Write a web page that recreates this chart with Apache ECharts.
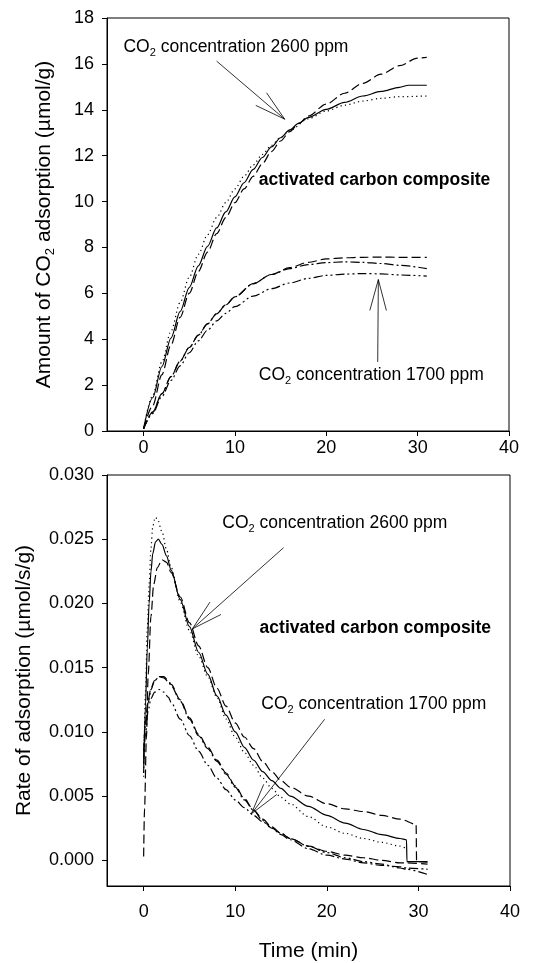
<!DOCTYPE html>
<html>
<head>
<meta charset="utf-8">
<script src="https://cdn.jsdelivr.net/npm/echarts@6/dist/echarts.min.js"></script>
<style>
  html, body { margin: 0; padding: 0; background: #fff; }
  #chart { width: 534px; height: 963px; }
</style>
</head>
<body>
<div id="chart"></div>
<script>
// ---- data: [time (min), value] ----
const xTicks = [0, 10, 20, 30, 40];
const amountTicks = [0, 2, 4, 6, 8, 10, 12, 14, 16, 18];
const rateTicks = [0, 0.005, 0.01, 0.015, 0.02, 0.025, 0.03];

// upper panel: amount of CO2 adsorbed (umol/g)
const amount2600Solid = [[0,0.1],[1,1.45],[2,2.8],[3,4.05],[4,5.2],[5,6.25],[6,7.2],[7,8.05],[8,8.85],[9,9.55],[10,10.2],[11,10.82],[12,11.4],[13,11.92],[14,12.38],[15,12.78],[16,13.12],[17,13.42],[18,13.66],[20,14.02],[22,14.32],[24,14.6],[26,14.8],[28,14.98],[29,15.07],[31,15.07]];
const amount2600Dash = [[0,0.1],[1,1.1],[2,2.45],[3,3.75],[4,4.95],[5,6.0],[6,6.95],[7,7.8],[8,8.6],[9,9.3],[10,9.95],[11,10.55],[12,11.1],[13,11.65],[14,12.18],[15,12.64],[16,13.05],[17,13.4],[18,13.72],[20,14.25],[22,14.72],[24,15.15],[26,15.55],[28,15.92],[30,16.25],[31,16.28]];
const amount2600Dot = [[0,0.1],[1,1.55],[2,3.0],[3,4.35],[4,5.6],[5,6.7],[6,7.7],[7,8.55],[8,9.3],[9,9.95],[10,10.55],[11,11.1],[12,11.6],[13,12.05],[14,12.45],[15,12.8],[16,13.1],[18,13.6],[20,13.95],[22,14.2],[24,14.38],[26,14.5],[28,14.57],[31,14.6]];
const amount1700Dash = [[0,0.1],[1,0.82],[2,1.62],[3,2.37],[4,3.04],[5,3.64],[6,4.18],[7,4.67],[8,5.11],[9,5.5],[10,5.85],[12,6.42],[14,6.82],[16,7.12],[18,7.35],[20,7.5],[22,7.55],[24,7.57],[26,7.58],[28,7.57],[31,7.57]];
const amount1700DashDot = [[0,0.1],[1,0.82],[2,1.62],[3,2.37],[4,3.04],[5,3.64],[6,4.18],[7,4.67],[8,5.11],[9,5.5],[10,5.85],[12,6.42],[14,6.82],[16,7.08],[18,7.25],[20,7.34],[22,7.37],[24,7.35],[26,7.3],[28,7.22],[31,7.08]];
const amount1700DashDotDot = [[0,0.1],[1,0.76],[2,1.5],[3,2.2],[4,2.84],[5,3.41],[6,3.93],[7,4.39],[8,4.8],[9,5.13],[10,5.42],[12,5.88],[14,6.2],[16,6.45],[18,6.65],[20,6.78],[22,6.84],[24,6.86],[26,6.85],[28,6.8],[31,6.75]];

// lower panel: rate of adsorption (umol/s/g)
const rate2600Solid = [[0,0.0068],[0.2,0.012],[0.4,0.0165],[0.6,0.02],[0.8,0.0225],[1,0.0239],[1.3,0.0248],[1.6,0.025],[2,0.0246],[2.5,0.0237],[3,0.0226],[4,0.0203],[5,0.0182],[6,0.0162],[7,0.0145],[8,0.0128],[9,0.0113],[10,0.01],[11,0.0088],[12,0.0078],[13,0.0069],[14,0.0062],[15,0.0056],[16,0.005],[18,0.0042],[20,0.0035],[22,0.0029],[24,0.0024],[26,0.002],[28,0.0017],[28.7,0.0016],[28.75,-0.0001],[31,-0.0001]];
const rate2600Dash = [[0,0.0003],[0.1,0.004],[0.3,0.0095],[0.5,0.0145],[0.8,0.019],[1.1,0.0215],[1.5,0.0228],[2,0.0234],[2.5,0.0232],[3,0.0224],[4,0.0205],[5,0.0185],[6,0.0167],[7,0.015],[8,0.0134],[9,0.012],[10,0.0107],[11,0.0096],[12,0.0087],[13,0.0077],[14,0.0069],[15,0.0062],[16,0.0057],[18,0.005],[20,0.0044],[22,0.004],[24,0.0038],[26,0.0035],[28,0.0032],[29.75,0.0028],[29.8,-0.0001],[31,-0.00015]];
const rate2600Dot = [[0,0.0065],[0.2,0.013],[0.4,0.018],[0.6,0.0215],[0.8,0.0243],[1,0.026],[1.25,0.0267],[1.5,0.0266],[2,0.0256],[2.5,0.0242],[3,0.0228],[4,0.0201],[5,0.0179],[6,0.0159],[7,0.0143],[8,0.0127],[9,0.011],[10,0.0096],[11,0.0084],[12,0.0074],[13,0.0064],[14,0.0056],[15,0.0049],[16,0.0044],[18,0.0034],[20,0.0026],[22,0.0021],[24,0.0017],[26,0.0014],[28,0.0011],[28.7,0.0009]];
const rate1700Dash = [[0,0.0085],[0.2,0.0108],[0.5,0.0125],[0.8,0.0134],[1.2,0.014],[1.7,0.0143],[2.2,0.0143],[2.7,0.014],[3,0.0137],[4,0.0125],[5,0.0111],[6,0.0098],[7,0.0088],[8,0.0078],[9,0.0068],[10,0.0058],[11,0.0048],[12,0.0039],[13,0.0032],[14,0.0026],[15,0.0021],[16,0.0017],[18,0.0011],[20,0.0007],[22,0.0004],[24,0.0002],[26,0],[28,-0.0002],[28.7,-0.0002],[31,-0.0003]];
const rate1700DashDot = [[0,0.008],[0.2,0.0105],[0.5,0.0123],[0.8,0.0133],[1.2,0.014],[1.7,0.0143],[2.2,0.0142],[2.7,0.0139],[3,0.0136],[4,0.0124],[5,0.011],[6,0.0097],[7,0.0087],[8,0.0077],[9,0.0067],[10,0.0057],[11,0.0047],[12,0.0039],[13,0.0031],[14,0.0025],[15,0.002],[16,0.0016],[18,0.0009],[20,0.0004],[22,0.0001],[24,-0.0002],[26,-0.0004],[28,-0.0005],[28.7,-0.0006],[31,-0.0007]];
const rate1700DashDotDot = [[0,0.0075],[0.2,0.0098],[0.5,0.0117],[0.8,0.0126],[1.2,0.0131],[1.7,0.0133],[2.2,0.0131],[2.7,0.0127],[3,0.0123],[4,0.011],[5,0.0097],[6,0.0085],[7,0.0074],[8,0.0064],[9,0.0055],[10,0.0047],[11,0.0041],[12,0.0035],[13,0.003],[14,0.0025],[15,0.0021],[16,0.0017],[18,0.0011],[20,0.0006],[22,0.0002],[24,-0.0001],[26,-0.0003],[28,-0.0006],[28.7,-0.0007],[31,-0.0011]];

// ---- styling ----
const FONT = "'Liberation Sans', Arial, Helvetica, sans-serif";
const DASH = [9, 4];
const DOT = [1.2, 3.3];
const DASH_DOT = [9, 3, 2, 3];
const DASH_DOT_DOT = [9, 3, 2, 3, 2, 3];

const chart = echarts.init(document.getElementById('chart'));

function curve(data, type, g) {
  return {
    type: 'line', data: data, xAxisIndex: g, yAxisIndex: g,
    showSymbol: false, symbol: 'none', smooth: 0.3, smoothMonotone: 'x',
    lineStyle: { color: '#000', width: 1.2, type: type },
    silent: true
  };
}

function xAxisFor(g, labelMargin, name) {
  return {
    type: 'value', gridIndex: g, min: -4, max: 40,
    name: name || '', nameLocation: 'middle', nameGap: 55,
    nameTextStyle: { fontFamily: FONT, fontSize: 21, color: '#000' },
    axisLine: { onZero: false, lineStyle: { color: '#000', width: 1 } },
    axisTick: { customValues: xTicks, length: 5, lineStyle: { color: '#000' } },
    axisLabel: { customValues: xTicks, margin: labelMargin, fontFamily: FONT, fontSize: 18, color: '#000' },
    splitLine: { show: false }
  };
}

const subRich = { sub: { fontSize: 13, lineHeight: 13, verticalAlign: 'bottom' } };

const option = {
  animation: false,
  backgroundColor: '#fff',
  grid: [
    { left: 107, right: 25, top: 18, height: 413, show: true, borderColor: '#000', borderWidth: 1 },
    { left: 107, right: 24, top: 475, height: 412, show: true, borderColor: '#000', borderWidth: 1 }
  ],
  xAxis: [xAxisFor(0, 8), xAxisFor(1, 17, 'Time (min)')],
  yAxis: [
    {
      type: 'value', gridIndex: 0, min: 0, max: 18,
      name: 'Amount of CO{sub|2} adsorption (µmol/g)', nameLocation: 'middle', nameGap: 50,
      nameTextStyle: { fontFamily: FONT, fontSize: 21, color: '#000', lineHeight: 26, rich: subRich },
      axisLine: { onZero: false, lineStyle: { color: '#000' } },
      axisTick: { customValues: amountTicks, length: 5, lineStyle: { color: '#000' } },
      axisLabel: { customValues: amountTicks, margin: 13, fontFamily: FONT, fontSize: 18, color: '#000' },
      splitLine: { show: false }
    },
    {
      type: 'value', gridIndex: 1, min: -0.002, max: 0.03,
      name: 'Rate of adsorption (µmol/s/g)', nameLocation: 'middle', nameGap: 72,
      nameTextStyle: { fontFamily: FONT, fontSize: 21, color: '#000' },
      axisLine: { onZero: false, lineStyle: { color: '#000' } },
      axisTick: { customValues: rateTicks, length: 5, lineStyle: { color: '#000' } },
      axisLabel: { customValues: rateTicks, margin: 13, fontFamily: FONT, fontSize: 18, color: '#000',
        formatter: function (v) { return v.toFixed(3); } },
      splitLine: { show: false }
    }
  ],
  series: [
    curve(amount2600Solid, 'solid', 0),
    curve(amount2600Dash, DASH, 0),
    curve(amount2600Dot, DOT, 0),
    curve(amount1700Dash, DASH, 0),
    curve(amount1700DashDot, DASH_DOT, 0),
    curve(amount1700DashDotDot, DASH_DOT_DOT, 0),
    curve(rate2600Solid, 'solid', 1),
    curve(rate2600Dash, DASH, 1),
    curve(rate2600Dot, DOT, 1),
    curve(rate1700Dash, DASH, 1),
    curve(rate1700DashDot, DASH_DOT, 1),
    curve(rate1700DashDotDot, DASH_DOT_DOT, 1)
  ]
};
chart.setOption(option);

// ---- annotations, placed in data coordinates of each panel ----
const notes = [
  { g: 0, at: [-2.2, 16.73], text: 'CO{sub|2} concentration 2600 ppm' },
  { g: 0, at: [12.62, 10.93], text: 'activated carbon composite', bold: true },
  { g: 0, at: [12.62, 2.43], text: 'CO{sub|2} concentration 1700 ppm' },
  { g: 1, at: [8.59, 0.02623], text: 'CO{sub|2} concentration 2600 ppm' },
  { g: 1, at: [12.66, 0.01809], text: 'activated carbon composite', bold: true },
  { g: 1, at: [12.85, 0.01215], text: 'CO{sub|2} concentration 1700 ppm' }
];
const arrows = [
  { g: 0, from: [8.0, 16.12], to: [15.45, 13.59] },
  { g: 0, from: [25.63, 3.01], to: [25.7, 6.6] },
  { g: 1, from: [15.28, 0.02434], to: [5.32, 0.01802] },
  { g: 1, from: [19.76, 0.01098], to: [11.76, 0.00362] }
];

function px(g, p) {
  return chart.convertToPixel({ xAxisIndex: g, yAxisIndex: g }, p);
}

const graphics = [];
notes.forEach(function (n) {
  const p = px(n.g, n.at);
  graphics.push({
    type: 'text', x: p[0], y: p[1], silent: true,
    style: {
      text: n.text, fill: '#000', fontFamily: FONT, fontSize: 17.5,
      fontWeight: n.bold ? 'bold' : 'normal', lineHeight: 22,
      verticalAlign: 'middle', align: 'left',
      rich: { sub: { fontSize: 11, lineHeight: 11, verticalAlign: 'bottom', fontFamily: FONT } }
    }
  });
});
arrows.forEach(function (a) {
  const s = px(a.g, a.from);
  const t = px(a.g, a.to);
  const dx = s[0] - t[0], dy = s[1] - t[1];
  const len = Math.sqrt(dx * dx + dy * dy);
  const ux = dx / len, uy = dy / len;
  const ang = 15 * Math.PI / 180, L = 32;
  const w = function (sign) {
    const c = Math.cos(sign * ang), sn = Math.sin(sign * ang);
    return [t[0] + L * (ux * c - uy * sn), t[1] + L * (ux * sn + uy * c)];
  };
  graphics.push({
    type: 'line', silent: true,
    shape: { x1: s[0], y1: s[1], x2: t[0], y2: t[1] },
    style: { stroke: '#000', lineWidth: 0.8 }
  });
  graphics.push({
    type: 'polyline', silent: true,
    shape: { points: [w(1), t, w(-1)] },
    style: { stroke: '#000', lineWidth: 0.8, fill: null }
  });
});
chart.setOption({ graphic: graphics });
</script>
</body>
</html>
